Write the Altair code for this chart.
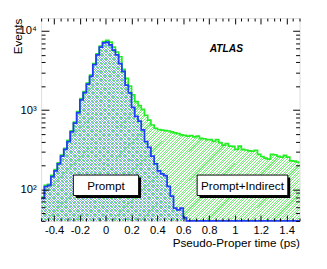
import altair as alt
import pandas as pd

# ---- data ----
bin_lo = -0.5
bin_w = 0.025
prompt = [77, 108, 112, 145, 171, 209, 262, 319, 401, 532,
          686, 930, 1350, 1665, 2128, 2671, 3752, 4978, 6250, 7060,
          7200, 6665, 5737, 4978, 3860, 3077, 2070, 1652, 1080, 836,
          726, 563, 401, 338, 262, 209, 171, 157, 149, 109,
          82, 58, 55, 58, 44, 10, 10, 10, 10, 10,
          10, 10, 10, 10, 10, 10, 10, 10, 10, 10,
          10, 10, 10, 10, 10, 10, 10, 10, 10, 10,
          10, 10, 10, 10, 10, 10, 10, 10, 10, 10]
total = [80, 112, 116, 150, 178, 216, 270, 330, 415, 548,
         708, 960, 1400, 1720, 2190, 2760, 3860, 5120, 6450, 7350,
         7620, 7200, 6250, 5420, 4710, 3260, 2523, 2013, 1560, 1279,
         1143, 1021, 861, 747, 648, 590, 570, 560, 552, 545,
         532, 517, 505, 488, 480, 470, 478, 460, 470, 440,
         435, 424, 424, 404, 424, 389, 361, 378, 351, 348,
         319, 351, 319, 314, 306, 304, 310, 277, 260, 248,
         241, 277, 273, 262, 255, 269, 255, 229, 227, 221]
x_label_values = [-0.4, -0.2, 0, 0.2, 0.4, 0.6, 0.8, 1, 1.2, 1.4]
y_label_values = [100, 1000, 10000]
y_label_texts = ["10\u00b2", "10\u00b3", "10\u2074"]
box_labels = ["Prompt", "Prompt+Indirect"]
experiment = "ATLAS"

n = len(total)
edges = [round(bin_lo + i * bin_w, 4) for i in range(n + 1)]
df = pd.DataFrame({
    "x": edges,
    "total": total + [total[-1]],
    "prompt": prompt + [prompt[-1]],
    "base": [1] * (n + 1),
})

# ---- layout ----
W, H = 265, 208
FONT = "Liberation Sans"

xs = alt.Scale(domain=[-0.5, 1.5], nice=False, zero=False)
ys = alt.Scale(type="log", domain=[40, 14500], nice=False, clamp=True)

x_minor = [round(-0.5 + 0.05 * i, 3) for i in range(41)]
y_minor = [m * 10 ** e for e in range(1, 5) for m in range(1, 10) if 40 <= m * 10 ** e <= 14500]

x_major_test = "abs(datum.value*5 - round(datum.value*5)) < 0.001"
y_major_test = "abs(log(datum.value)/LN10 - round(log(datum.value)/LN10)) < 0.001"


def tick_axis(orient, offset, values, test, big, small):
    return alt.Axis(orient=orient, offset=offset, values=values, labels=False,
                    domain=False, grid=False, title=None, tickColor="black",
                    tickWidth=1, zindex=2,
                    tickSize={"condition": {"test": test, "value": big}, "value": small})


def hatch(color, periods, frac, x1, y1, x2, y2):
    clear = "rgba(255,255,255,0)"
    stops = []
    for k in range(periods):
        t0 = round(k / periods, 5)
        t1 = round((k + frac) / periods, 5)
        t2 = round((k + 1) / periods, 5)
        stops += [alt.GradientStop(offset=t0, color=color),
                  alt.GradientStop(offset=t1, color=color),
                  alt.GradientStop(offset=t1, color=clear),
                  alt.GradientStop(offset=t2, color=clear)]
    return alt.LinearGradient(gradient="linear", stops=stops, x1=x1, y1=y1, x2=x2, y2=y2)


green_fill = hatch("#74ee74", 175, 0.4, 0, 0, 1.2, 0.84)
blue_fill = hatch("#86a6f4", 175, 0.38, 0, 1, 1.2, 0.16)

label_expr_y = " : ".join(
    f"datum.value == {v} ? '{t}'" for v, t in zip(y_label_values, y_label_texts)) + " : ''"

main_x = alt.Axis(orient="bottom", values=x_label_values,
                  labelExpr="toString(round(datum.value*10)/10)",
                  tickSize=0, domain=False, grid=False, labelOverlap=False,
                  labelFont=FONT, labelFontSize=11.5, labelColor="black", labelPadding=4,
                  title="Pseudo-Proper time (ps)", titleFont=FONT, titleFontSize=12,
                  titleFontWeight="normal", titleColor="black", titleAnchor="end",
                  titleAlign="right", titleBaseline="alphabetic", titleX=W, titleY=26)
main_y = alt.Axis(orient="left", values=y_label_values, labelExpr=label_expr_y,
                  tickSize=0, domain=False, grid=False, labelOverlap=False,
                  labelFont=FONT, labelFontSize=11.5, labelColor="black", labelPadding=5,
                  title="Events", titleFont=FONT, titleFontSize=12, titleFontWeight="normal",
                  titleColor="black", titleAnchor="end", titleAlign="right", titleAngle=270,
                  titleBaseline="alphabetic", titleX=-20, titleY=0)

base = alt.Chart(df)

green_area = base.mark_area(interpolate="step-after", fill=green_fill).encode(
    x=alt.X("x:Q", scale=xs, axis=main_x),
    y=alt.Y("total:Q", scale=ys, axis=main_y),
    y2="base:Q",
)
blue_area = base.mark_area(interpolate="step-after", fill=blue_fill).encode(
    x=alt.X("x:Q", scale=xs, axis=tick_axis("top", -H, x_minor, x_major_test, 6, 3)),
    y=alt.Y("prompt:Q", scale=ys, axis=tick_axis("right", -W, y_minor, y_major_test, 8, 4)),
    y2="base:Q",
)
green_line = base.mark_line(interpolate="step-after", color="#22ee22", strokeWidth=1.7).encode(
    x=alt.X("x:Q", scale=xs, axis=tick_axis("bottom", -H, x_minor, x_major_test, 6, 3)),
    y=alt.Y("total:Q", scale=ys, axis=tick_axis("left", -W, y_minor, y_major_test, 7, 4)),
)
blue_line = base.mark_line(interpolate="step-after", color="#1f3ff5", strokeWidth=1.8).encode(
    x=alt.X("x:Q", scale=xs, axis=None),
    y=alt.Y("prompt:Q", scale=ys, axis=None),
)

ann = alt.Chart(pd.DataFrame({"t": [experiment]}))
atlas = ann.mark_text(font=FONT, fontSize=10.5, fontStyle="italic", fontWeight="bold",
                      color="black").encode(text="t:N", x=alt.value(190), y=alt.value(32))


def box(label, x0, x1, y0, y1):
    d = alt.Chart(pd.DataFrame({"t": [label]}))
    shadow = d.mark_rect(color="black").encode(
        x=alt.value(x0 + 2.5), x2=alt.value(x1 + 2.5), y=alt.value(y0 + 2.5), y2=alt.value(y1 + 2.5))
    frame = d.mark_rect(fill="white", stroke="black", strokeWidth=1).encode(
        x=alt.value(x0), x2=alt.value(x1), y=alt.value(y0), y2=alt.value(y1))
    txt = d.mark_text(font=FONT, fontSize=12, color="black", baseline="middle").encode(
        text="t:N", x=alt.value((x0 + x1) / 2), y=alt.value((y0 + y1) / 2 + 0.5))
    return [shadow, frame, txt]


layers = [green_area, blue_area, green_line, blue_line, atlas]
layers += box(box_labels[0], 33, 100, 161, 182)
layers += box(box_labels[1], 160, 253, 161, 182)

chart = alt.layer(*layers).resolve_axis(x="independent", y="independent").properties(
    width=W, height=H, autosize="none",
    padding={"left": 34, "top": 7, "right": 20, "bottom": 46},
).configure_view(stroke="black", strokeWidth=1).configure(font=FONT)

chart.save("out.html", embed_options={"renderer": "svg", "actions": False})
